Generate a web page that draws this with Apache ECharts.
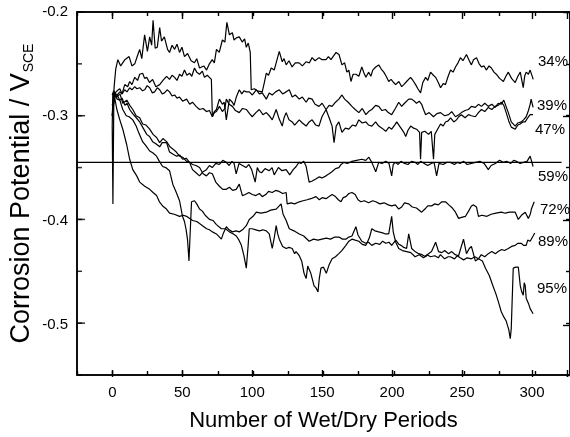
<!DOCTYPE html>
<html>
<head>
<meta charset="utf-8">
<style>
  html, body { margin: 0; padding: 0; background: #fff; }
  #main { width: 570px; height: 437px; }
</style>
<script src="https://cdn.jsdelivr.net/npm/echarts@6/dist/echarts.min.js"></script>
</head>
<body>
<div id="main"></div>
<script>
// relative humidity of each curve, top to bottom at the right end
const humidity = ['34%', '39%', '47%', '59%', '72%', '89%', '95%']

// tick values on the left frame (minor every 0.05, major every 0.1)
const yMinorTicks = [-0.55, -0.5, -0.45, -0.4, -0.35, -0.3, -0.25, -0.2]
const yMajorTicks = [-0.5, -0.4, -0.3, -0.2]

// corrosion potential (V vs SCE) against number of wet/dry periods
const rh34 = [[0,-0.300],[1.5,-0.27],[2.5,-0.255],[4,-0.246],[6,-0.252],[9,-0.246],[12,-0.243],[14,-0.252],[16,-0.25],[18,-0.242],[19.5,-0.236],[21,-0.245],[23,-0.222],[25,-0.238],[26.6,-0.224],[28,-0.232],[29,-0.208],[30.5,-0.235],[32,-0.234],[33.7,-0.215],[35,-0.228],[37,-0.224],[39.3,-0.236],[40.7,-0.239],[42.5,-0.232],[44.3,-0.236],[46,-0.231],[47.8,-0.239],[49.5,-0.234],[51.3,-0.243],[53.5,-0.240],[56,-0.247],[58.4,-0.249],[60,-0.245],[62,-0.254],[65,-0.252],[67,-0.256],[69,-0.25],[71,-0.246],[72.5,-0.249],[74,-0.236],[76,-0.239],[78.2,-0.227],[80,-0.229],[81.4,-0.21],[83.2,-0.222],[85.3,-0.220],[86.5,-0.227],[88.1,-0.225],[90.2,-0.224],[92.3,-0.229],[94,-0.226],[95.2,-0.234],[96.6,-0.230],[98,-0.239],[98.7,-0.275],[100.9,-0.274],[103,-0.276],[106.5,-0.277],[108,-0.268],[109.4,-0.259],[111,-0.261],[112.9,-0.254],[115,-0.256],[116.4,-0.249],[118.6,-0.238],[120.7,-0.248],[122,-0.245],[123.5,-0.251],[125.5,-0.247],[127.7,-0.253],[130,-0.249],[132.7,-0.249],[135,-0.252],[137.6,-0.248],[140,-0.249],[141.9,-0.244],[144,-0.247],[146.8,-0.244],[149,-0.246],[151.8,-0.246],[153.5,-0.243],[155.3,-0.246],[158.9,-0.239],[161,-0.241],[163.1,-0.251],[165,-0.249],[166.6,-0.258],[168,-0.256],[169.5,-0.267],[171,-0.26],[173,-0.26],[175.1,-0.262],[177.2,-0.253],[178.5,-0.258],[180.1,-0.263],[182,-0.258],[183.6,-0.262],[185,-0.256],[187.1,-0.253],[189.2,-0.251],[191,-0.255],[192.8,-0.258],[194.5,-0.262],[196.3,-0.267],[198,-0.265],[199.8,-0.268],[201.2,-0.27],[203.5,-0.267],[205.5,-0.272],[207,-0.27],[209,-0.267],[211.8,-0.263],[213.5,-0.266],[215.4,-0.27],[217,-0.274],[218.9,-0.278],[220.5,-0.268],[222.5,-0.263],[224,-0.266],[226,-0.258],[228,-0.261],[229.6,-0.263],[231.5,-0.268],[233.1,-0.273],[235,-0.269],[236.6,-0.27],[238.5,-0.262],[240.2,-0.256],[242,-0.258],[243.7,-0.253],[245.5,-0.249],[247.2,-0.244],[249,-0.247],[251.5,-0.241],[253.5,-0.247],[255,-0.251],[256.5,-0.246],[258.6,-0.244],[260.5,-0.25],[262.1,-0.253],[264,-0.252],[265.6,-0.256],[267.5,-0.252],[269.2,-0.254],[271,-0.258],[272.7,-0.26],[275,-0.264],[277.7,-0.267],[279.5,-0.262],[281.2,-0.258],[283.5,-0.264],[286.1,-0.268],[288,-0.262],[289.7,-0.258],[290.8,-0.266],[291.8,-0.273],[292.8,-0.262],[293.9,-0.258],[295.5,-0.26],[296.7,-0.256],[298.9,-0.265]]

const rh39 = [[0,-0.31],[0.4,-0.28],[1.8,-0.28],[3.5,-0.276],[5.4,-0.274],[7,-0.279],[8.9,-0.27],[11,-0.272],[12.4,-0.267],[14,-0.27],[16,-0.263],[18,-0.266],[19.5,-0.26],[21.6,-0.259],[23,-0.264],[24.5,-0.263],[26.5,-0.268],[28.7,-0.265],[31,-0.272],[33.7,-0.27],[36,-0.266],[38.6,-0.262],[40.7,-0.265],[42.5,-0.261],[44.3,-0.263],[46,-0.266],[47.8,-0.26],[49.5,-0.262],[51.3,-0.256],[53,-0.261],[54.9,-0.259],[56.5,-0.262],[58.4,-0.254],[60,-0.258],[62,-0.26],[64,-0.257],[65.5,-0.263],[67.5,-0.261],[69,-0.263],[70.4,-0.265],[71.1,-0.301],[72.5,-0.296],[74,-0.294],[76.1,-0.284],[78.2,-0.289],[79.5,-0.287],[81,-0.304],[83.2,-0.284],[85.3,-0.287],[86.5,-0.29],[88.1,-0.282],[90.2,-0.275],[92,-0.279],[93.5,-0.276],[95.2,-0.277],[97.3,-0.277],[99.5,-0.28],[102.3,-0.275],[104.5,-0.279],[106.5,-0.278],[109.4,-0.284],[111.5,-0.278],[113.6,-0.28],[116,-0.277],[118.6,-0.275],[121,-0.279],[123.5,-0.277],[125.7,-0.275],[127.8,-0.282],[130,-0.28],[132.8,-0.284],[135,-0.282],[137.7,-0.287],[139.5,-0.283],[141.9,-0.284],[144,-0.289],[146.8,-0.291],[149,-0.288],[151.8,-0.294],[154,-0.29],[156.1,-0.291],[158.5,-0.287],[160.9,-0.284],[163.1,-0.28],[165,-0.284],[167.5,-0.287],[170.2,-0.291],[172.5,-0.294],[175.1,-0.297],[177.5,-0.293],[180.1,-0.299],[182,-0.296],[184.3,-0.294],[187,-0.29],[189.2,-0.291],[191.5,-0.295],[194,-0.294],[196,-0.297],[198.4,-0.299],[201,-0.293],[203.4,-0.287],[205.5,-0.291],[207.5,-0.288],[210.5,-0.284],[212.6,-0.284],[214.5,-0.286],[216,-0.288],[218,-0.286],[219.7,-0.289],[221,-0.294],[222.5,-0.299],[225,-0.297],[228.1,-0.301],[230.5,-0.298],[233.1,-0.297],[236,-0.3],[238.8,-0.299],[241,-0.296],[243.7,-0.301],[246,-0.299],[247.9,-0.297],[250.5,-0.295],[252.9,-0.294],[255,-0.291],[257.8,-0.292],[260,-0.289],[262.1,-0.291],[264.5,-0.288],[267,-0.291],[269.5,-0.289],[271.9,-0.292],[274,-0.288],[276.2,-0.289],[278,-0.285],[279,-0.286],[281.2,-0.297],[283.3,-0.306],[286.1,-0.31],[288,-0.307],[290.4,-0.306],[292,-0.304],[293.9,-0.301],[295.5,-0.295],[296.7,-0.289],[297.4,-0.284],[298.8,-0.292]]

const rh47 = [[0,-0.29],[1.8,-0.278],[3.5,-0.28],[5.4,-0.277],[7,-0.279],[8.9,-0.275],[10.5,-0.277],[12.4,-0.273],[14,-0.275],[16,-0.272],[17.5,-0.274],[19.5,-0.273],[21.5,-0.276],[23.1,-0.275],[24.8,-0.271],[26.6,-0.273],[28.5,-0.278],[30.1,-0.277],[32,-0.273],[33.7,-0.275],[35.5,-0.279],[37.1,-0.278],[39,-0.275],[40.7,-0.277],[42.5,-0.281],[44.3,-0.28],[46,-0.283],[47.8,-0.282],[50,-0.286],[52.8,-0.284],[55,-0.289],[57,-0.287],[59.5,-0.291],[62,-0.294],[64.5,-0.293],[66.9,-0.296],[69,-0.295],[71.1,-0.301],[72.5,-0.297],[74,-0.296],[76.1,-0.291],[78.2,-0.296],[80,-0.293],[81,-0.284],[83,-0.289],[85.3,-0.291],[87.5,-0.295],[90.2,-0.297],[92.5,-0.293],[95.2,-0.294],[97.5,-0.298],[99.4,-0.301],[102,-0.297],[104.4,-0.294],[107,-0.299],[109.4,-0.297],[111.5,-0.3],[113.6,-0.304],[115,-0.299],[116.4,-0.294],[118.5,-0.303],[120.7,-0.31],[122,-0.302],[123.5,-0.297],[125.5,-0.304],[127.8,-0.306],[129.5,-0.309],[130.6,-0.31],[132.8,-0.304],[135,-0.307],[137.7,-0.31],[139.8,-0.306],[141.9,-0.304],[144.5,-0.309],[146.8,-0.31],[148.9,-0.301],[151.8,-0.294],[154,-0.302],[156.1,-0.31],[157.5,-0.326],[159,-0.31],[160.9,-0.306],[163.1,-0.316],[165.5,-0.312],[168,-0.313],[170.5,-0.309],[173,-0.31],[175.1,-0.304],[177.5,-0.307],[180.1,-0.306],[182,-0.309],[184.3,-0.31],[187,-0.306],[189.2,-0.31],[191.5,-0.312],[194.2,-0.315],[196.5,-0.311],[198.4,-0.313],[200.5,-0.309],[202,-0.306],[204,-0.31],[205.5,-0.313],[207,-0.316],[208.4,-0.32],[210,-0.314],[211.9,-0.31],[214,-0.312],[216.1,-0.313],[218.2,-0.316],[218.9,-0.342],[219.7,-0.316],[222,-0.315],[224.6,-0.318],[226.5,-0.315],[228.1,-0.342],[229,-0.318],[231,-0.313],[233.1,-0.308],[235,-0.31],[236.6,-0.306],[238.5,-0.305],[240.2,-0.302],[242.5,-0.306],[244.4,-0.304],[246,-0.301],[247.9,-0.299],[250.5,-0.302],[252.9,-0.299],[255,-0.3],[257.8,-0.301],[260,-0.297],[262.1,-0.294],[264.5,-0.296],[267,-0.292],[269.5,-0.294],[271.9,-0.291],[274,-0.29],[276.2,-0.287],[278,-0.29],[279.7,-0.297],[281.5,-0.305],[283.3,-0.311],[286.1,-0.313],[288,-0.309],[289.7,-0.308],[291.5,-0.306],[293.2,-0.306],[295,-0.302],[296.7,-0.299],[298.8,-0.299]]

const rh59 = [[0,-0.31],[0.5,-0.385],[1.1,-0.29],[2,-0.28],[3.5,-0.284],[5.4,-0.285],[7,-0.283],[9,-0.29],[10.5,-0.288],[12.4,-0.294],[14.5,-0.298],[16.5,-0.301],[19.5,-0.306],[22,-0.312],[24.5,-0.318],[26.5,-0.32],[28.7,-0.325],[31,-0.327],[33.7,-0.33],[35.5,-0.326],[38.6,-0.326],[40.7,-0.335],[43,-0.337],[45.7,-0.339],[48,-0.338],[50,-0.342],[52.5,-0.341],[54.9,-0.345],[57,-0.352],[59.5,-0.355],[62,-0.358],[64.5,-0.354],[66.9,-0.352],[69,-0.348],[71,-0.35],[73.5,-0.346],[76.1,-0.347],[78.5,-0.343],[81,-0.345],[83,-0.348],[85,-0.344],[86.5,-0.346],[88,-0.356],[90,-0.346],[92.5,-0.348],[95,-0.35],[97,-0.347],[99,-0.352],[101.5,-0.364],[103,-0.35],[104.5,-0.354],[106,-0.355],[108.5,-0.351],[111.5,-0.353],[113.5,-0.35],[115,-0.357],[118,-0.35],[120.5,-0.353],[123.5,-0.352],[126,-0.357],[128.5,-0.352],[130.6,-0.349],[132.5,-0.345],[134,-0.346],[136,-0.344],[137.7,-0.349],[139.8,-0.364],[142,-0.363],[144.5,-0.361],[146.8,-0.359],[149,-0.36],[151.8,-0.358],[154,-0.356],[156,-0.354],[158.5,-0.351],[160.9,-0.35],[162.5,-0.347],[164.4,-0.345],[167,-0.346],[170.2,-0.344],[173.5,-0.343],[177.2,-0.342],[180,-0.343],[182.2,-0.34],[184.3,-0.345],[187.1,-0.354],[189.2,-0.345],[191.5,-0.346],[194.2,-0.344],[196.5,-0.346],[198.4,-0.358],[199.5,-0.347],[201,-0.345],[203,-0.347],[205,-0.344],[207.5,-0.346],[210,-0.347],[212.5,-0.344],[215,-0.345],[217,-0.347],[219,-0.344],[221.5,-0.346],[224,-0.348],[226.5,-0.346],[228.5,-0.345],[230.3,-0.358],[232,-0.346],[235,-0.347],[237.5,-0.345],[240,-0.345],[243,-0.347],[245,-0.345],[247,-0.346],[249.5,-0.344],[252,-0.347],[255,-0.346],[258,-0.345],[261,-0.344],[264,-0.346],[267,-0.352],[269,-0.348],[272,-0.346],[275,-0.343],[277.5,-0.345],[280,-0.344],[283,-0.346],[285,-0.343],[287,-0.344],[289.5,-0.346],[292,-0.345],[294.5,-0.344],[296.7,-0.339],[298.8,-0.349]]

const rh72 = [[0,-0.28],[1.1,-0.276],[3.3,-0.282],[5.5,-0.279],[7.5,-0.288],[10.3,-0.285],[12.5,-0.29],[14.6,-0.294],[17,-0.3],[19.5,-0.302],[21.6,-0.308],[24,-0.309],[26.6,-0.313],[29,-0.318],[31.5,-0.321],[33.7,-0.326],[36,-0.322],[38.6,-0.325],[41,-0.33],[43,-0.332],[45.5,-0.335],[47.8,-0.339],[50,-0.34],[52.8,-0.344],[55,-0.345],[57,-0.347],[59.5,-0.348],[62,-0.35],[64.5,-0.356],[66.9,-0.358],[69,-0.355],[71.1,-0.356],[73.5,-0.364],[76.1,-0.368],[78.5,-0.371],[81,-0.371],[83.2,-0.369],[85.5,-0.372],[88,-0.371],[90.2,-0.366],[92.4,-0.377],[94.5,-0.376],[97,-0.374],[99.4,-0.376],[102,-0.377],[104.5,-0.375],[106.5,-0.378],[109,-0.376],[111,-0.373],[113.6,-0.374],[116,-0.372],[118.5,-0.373],[121,-0.375],[123.5,-0.374],[124.2,-0.385],[127,-0.384],[129.5,-0.385],[132.8,-0.383],[135.5,-0.382],[138.4,-0.381],[141,-0.38],[144.7,-0.378],[147,-0.381],[149,-0.379],[151.8,-0.38],[154,-0.378],[156.1,-0.376],[158.5,-0.378],[160.5,-0.381],[162.4,-0.383],[164,-0.379],[165.9,-0.378],[168,-0.375],[170.2,-0.374],[172.5,-0.376],[174.5,-0.381],[176.5,-0.383],[179,-0.382],[182,-0.384],[185,-0.382],[187.1,-0.383],[190,-0.385],[193,-0.384],[196,-0.386],[198.4,-0.387],[201,-0.386],[203.4,-0.39],[205.5,-0.388],[207.5,-0.384],[210.5,-0.385],[213,-0.388],[216,-0.389],[219.7,-0.393],[222,-0.39],[224,-0.387],[226.7,-0.387],[229,-0.385],[231.5,-0.386],[234,-0.383],[236.6,-0.383],[239,-0.386],[241.5,-0.389],[243.7,-0.393],[245.9,-0.399],[248,-0.398],[250.8,-0.397],[253,-0.392],[255,-0.387],[256.5,-0.386],[258.6,-0.388],[260,-0.397],[262.5,-0.396],[266,-0.397],[269,-0.395],[272.5,-0.394],[276.2,-0.393],[279,-0.394],[282,-0.393],[286.1,-0.393],[288.3,-0.4],[290.5,-0.396],[293.2,-0.393],[295.4,-0.399],[296.8,-0.395],[297.6,-0.39],[299.6,-0.383]]

const rh89 = [[0,-0.28],[1.1,-0.278],[3.3,-0.294],[5.4,-0.304],[7.5,-0.313],[10.3,-0.328],[12.4,-0.342],[14.6,-0.352],[17.4,-0.358],[19.5,-0.364],[23.1,-0.368],[26.6,-0.371],[29,-0.374],[31.5,-0.377],[33.5,-0.383],[35.8,-0.387],[38.5,-0.39],[40.7,-0.394],[44,-0.395],[47.8,-0.397],[50.5,-0.396],[52.8,-0.397],[55,-0.399],[57,-0.401],[60,-0.402],[62,-0.404],[64.1,-0.406],[67,-0.409],[69,-0.41],[71.1,-0.412],[74,-0.414],[77.5,-0.419],[79,-0.413],[81,-0.407],[83,-0.41],[85.3,-0.412],[88,-0.411],[90.2,-0.412],[92.5,-0.41],[95.2,-0.406],[97.3,-0.4],[100,-0.397],[102.3,-0.393],[105.5,-0.394],[109.4,-0.393],[112.5,-0.391],[116.4,-0.39],[119.9,-0.385],[121.3,-0.395],[123.5,-0.401],[125.7,-0.409],[129,-0.411],[132.8,-0.414],[136,-0.416],[139.8,-0.421],[143,-0.419],[146,-0.42],[148.9,-0.419],[152,-0.418],[155,-0.419],[158,-0.417],[160.9,-0.417],[163.5,-0.419],[165.9,-0.419],[168,-0.417],[170.2,-0.416],[173,-0.407],[174.5,-0.415],[177.2,-0.421],[180,-0.423],[182,-0.422],[184.3,-0.425],[187,-0.423],[190,-0.424],[192,-0.421],[194.2,-0.423],[196.5,-0.422],[198.4,-0.425],[201.3,-0.42],[203.5,-0.424],[205,-0.425],[207,-0.427],[209,-0.428],[210.5,-0.414],[212.6,-0.428],[215,-0.431],[217.5,-0.433],[220,-0.434],[222.5,-0.436],[224.5,-0.433],[226.7,-0.431],[229.6,-0.422],[231.7,-0.431],[234,-0.432],[236,-0.43],[238.8,-0.433],[241,-0.431],[243.5,-0.434],[245.9,-0.435],[249.4,-0.419],[251.5,-0.433],[253.5,-0.428],[255,-0.426],[257.8,-0.44],[260,-0.438],[262,-0.434],[264.5,-0.436],[267,-0.433],[269.5,-0.431],[272,-0.433],[274,-0.431],[276.5,-0.429],[278.5,-0.43],[281.2,-0.428],[283.5,-0.426],[286.1,-0.425],[288,-0.423],[290.4,-0.423],[292,-0.425],[293.9,-0.425],[295,-0.42],[296.7,-0.421],[298.8,-0.416],[300,-0.413]]

const rh95 = [[0,-0.30],[1.8,-0.279],[3.5,-0.28],[5.4,-0.285],[7.5,-0.294],[10,-0.3],[12,-0.301],[14.6,-0.304],[17,-0.31],[19,-0.317],[21.6,-0.325],[24,-0.329],[26.6,-0.334],[29,-0.336],[31.5,-0.339],[33.5,-0.344],[35.8,-0.349],[38,-0.35],[40.7,-0.353],[43,-0.366],[45.5,-0.374],[47.8,-0.382],[49.9,-0.397],[51.3,-0.402],[52.5,-0.41],[53.5,-0.42],[54.5,-0.44],[56.3,-0.383],[58.4,-0.382],[60,-0.385],[62,-0.39],[64,-0.392],[66,-0.396],[69,-0.4],[71.5,-0.401],[74,-0.405],[77.5,-0.409],[80.5,-0.409],[83.2,-0.412],[86,-0.414],[88.1,-0.416],[90,-0.42],[91.7,-0.425],[93.5,-0.435],[95.2,-0.447],[96.5,-0.425],[97.3,-0.409],[99.4,-0.409],[102,-0.41],[104.5,-0.411],[107,-0.41],[109.4,-0.411],[111.5,-0.414],[113.6,-0.428],[115,-0.418],[116.4,-0.406],[117.5,-0.414],[118.6,-0.419],[121,-0.426],[123.5,-0.428],[125.5,-0.427],[127.8,-0.428],[129.5,-0.433],[130.5,-0.431],[132.8,-0.435],[134.5,-0.44],[136.2,-0.452],[137.7,-0.457],[138.8,-0.445],[139.8,-0.444],[141,-0.452],[143.3,-0.464],[144.7,-0.466],[146.1,-0.47],[147,-0.457],[148.2,-0.447],[150,-0.446],[152,-0.452],[153.9,-0.444],[156.1,-0.438],[158.5,-0.436],[160.9,-0.433],[163,-0.43],[165.9,-0.425],[168,-0.421],[170.2,-0.419],[172.5,-0.42],[175.1,-0.421],[177.5,-0.424],[180.1,-0.425],[182.5,-0.418],[184.3,-0.409],[186.5,-0.411],[189.2,-0.412],[192,-0.413],[194,-0.414],[196.3,-0.414],[198.4,-0.397],[199.5,-0.412],[201.3,-0.422],[203.4,-0.428],[206,-0.43],[209,-0.431],[212,-0.432],[215,-0.436],[218,-0.434],[221,-0.437],[223.5,-0.434],[226,-0.436],[229,-0.435],[231.5,-0.437],[233,-0.434],[236,-0.438],[238.5,-0.436],[240,-0.436],[243,-0.438],[245,-0.435],[247,-0.437],[249.5,-0.439],[252,-0.437],[255,-0.438],[257.5,-0.436],[260,-0.438],[262.8,-0.44],[265,-0.447],[267.7,-0.454],[270,-0.463],[272.7,-0.473],[274.5,-0.481],[276.2,-0.489],[278,-0.494],[279.7,-0.498],[281.5,-0.506],[282.6,-0.515],[283.3,-0.505],[284.7,-0.447],[286.5,-0.446],[288.3,-0.446],[289.7,-0.464],[290.8,-0.47],[291.8,-0.473],[292.5,-0.461],[293.2,-0.464],[293.9,-0.476],[295.5,-0.481],[296.7,-0.486],[298.8,-0.491]]

// horizontal reference line
const refLine = [[-25, -0.345], [319, -0.345]]

const curves = [rh34, rh39, rh47, rh59, rh72, rh89, rh95]
const labelPos = [[538, 63], [537, 107], [535, 131], [538, 178], [540, 211], [538, 243], [537, 290]]

const FONT = '"Liberation Sans", Arial, Helvetica, sans-serif'
const axisStyle = { show: true, onZero: false, lineStyle: { color: '#000', width: 1.5 } }
const noLine = { show: false, onZero: false }
const tickLine = { color: '#000', width: 1.4 }
const X_MIN = -25

const chart = echarts.init(document.getElementById('main'), null, { renderer: 'canvas' })

const series = curves.map((d, i) => ({
  name: humidity[i],
  type: 'line',
  xAxisIndex: 0,
  yAxisIndex: 0,
  data: d,
  showSymbol: false,
  lineStyle: { color: '#000', width: 1.2 },
  animation: false
}))
series.push({
  type: 'line',
  xAxisIndex: 0,
  yAxisIndex: 0,
  data: refLine,
  showSymbol: false,
  lineStyle: { color: '#000', width: 1.3 },
  animation: false
})
// left-frame ticks, placed on the y scale at the left edge of the x range
series.push({
  type: 'scatter',
  xAxisIndex: 0,
  yAxisIndex: 0,
  data: yMinorTicks.map(v => [X_MIN, v]),
  symbol: 'rect',
  symbolSize: [5, 1.5],
  symbolOffset: [2.5, 0],
  itemStyle: { color: '#000' },
  silent: true,
  clip: false,
  z: 5,
  animation: false
})
series.push({
  type: 'scatter',
  xAxisIndex: 0,
  yAxisIndex: 0,
  data: yMajorTicks.map(v => [X_MIN, v]),
  symbol: 'rect',
  symbolSize: [8, 1.5],
  symbolOffset: [4, 0],
  itemStyle: { color: '#000' },
  silent: true,
  clip: false,
  z: 5,
  animation: false
})

const hiddenX = (g) => ({ gridIndex: g, type: 'value', show: false, min: -25, max: 325, axisLine: noLine })

chart.setOption({
  backgroundColor: '#fff',
  animation: false,
  textStyle: { fontFamily: FONT },
  grid: [
    // 0: main plot, its frame drawn by the grid border
    { left: 77, top: 12, width: 495, height: 365, show: true, borderColor: '#000', borderWidth: 1.5, backgroundColor: 'transparent' },
    // 1: long ticks on x (0, 50, ... 300)
    { left: 112.35, top: 12, width: 459.65, height: 365 },
    // 2: y tick labels and long ticks on the right
    { left: 77, top: 12, width: 495, height: 312.86 }
  ],
  xAxis: [
    {
      gridIndex: 0, type: 'value', min: X_MIN, max: 325, interval: 25, position: 'bottom',
      axisLine: axisStyle, splitLine: { show: false },
      axisTick: { show: true, inside: true, length: 4, lineStyle: tickLine },
      axisLabel: { show: false },
      name: 'Number of Wet/Dry Periods', nameLocation: 'middle', nameGap: 35,
      nameTextStyle: { fontSize: 22, color: '#000', fontFamily: FONT }
    },
    {
      gridIndex: 0, type: 'value', min: X_MIN, max: 325, interval: 25, position: 'top',
      axisLine: axisStyle, splitLine: { show: false },
      axisTick: { show: true, inside: true, length: 4, lineStyle: tickLine },
      axisLabel: { show: false }
    },
    {
      gridIndex: 1, type: 'value', min: 0, max: 325, interval: 50, position: 'bottom',
      axisLine: noLine, splitLine: { show: false },
      axisTick: { show: true, inside: true, length: 7, lineStyle: tickLine },
      axisLabel: {
        margin: 8, fontSize: 15, color: '#000', fontFamily: FONT,
        formatter: v => (Math.round(v) % 50 === 0 && v <= 300 ? String(Math.round(v)) : '')
      }
    },
    {
      gridIndex: 1, type: 'value', min: 0, max: 325, interval: 50, position: 'top',
      axisLine: noLine, splitLine: { show: false },
      axisTick: { show: true, inside: true, length: 7, lineStyle: tickLine },
      axisLabel: { show: false }
    },
    hiddenX(2)
  ],
  yAxis: [
    {
      gridIndex: 0, type: 'value', min: -0.55, max: -0.2, interval: 0.05, position: 'left',
      axisLine: axisStyle, splitLine: { show: false },
      axisTick: { show: false },
      axisLabel: { show: false },
      name: '{a|Corrosion Potential / V}{b|SCE}', nameLocation: 'middle', nameRotate: 90, nameGap: 41,
      nameTextStyle: {
        color: '#000',
        rich: {
          a: { fontSize: 27, fontFamily: FONT, color: '#000' },
          b: { fontSize: 14, fontFamily: FONT, color: '#000', padding: [15, 0, 0, 1] }
        }
      }
    },
    {
      gridIndex: 0, type: 'value', min: -0.55, max: -0.2, interval: 0.05, position: 'right',
      axisLine: axisStyle, splitLine: { show: false },
      axisTick: { show: true, inside: true, length: 4, lineStyle: tickLine },
      axisLabel: { show: false }
    },
    { gridIndex: 1, type: 'value', show: false, min: -0.55, max: -0.2, axisLine: noLine },
    {
      gridIndex: 2, type: 'value', min: -0.5, max: -0.2, interval: 0.1, position: 'left',
      axisLine: noLine, splitLine: { show: false },
      axisTick: { show: false },
      axisLabel: {
        margin: 9, fontSize: 15, color: '#000', fontFamily: FONT,
        formatter: v => v.toFixed(1)
      }
    },
    {
      gridIndex: 2, type: 'value', min: -0.5, max: -0.2, interval: 0.1, position: 'right',
      axisLine: noLine, splitLine: { show: false },
      axisTick: { show: true, inside: true, length: 7, lineStyle: tickLine },
      axisLabel: { show: false }
    }
  ],
  graphic: humidity.map((t, i) => ({
    type: 'text',
    left: labelPos[i][0],
    top: labelPos[i][1] - 9,
    style: { text: t, fill: '#000', font: '15px ' + FONT }
  })),
  series: series
})

window.addEventListener('resize', function() {
  chart.resize()
})
</script>
</body>
</html>
